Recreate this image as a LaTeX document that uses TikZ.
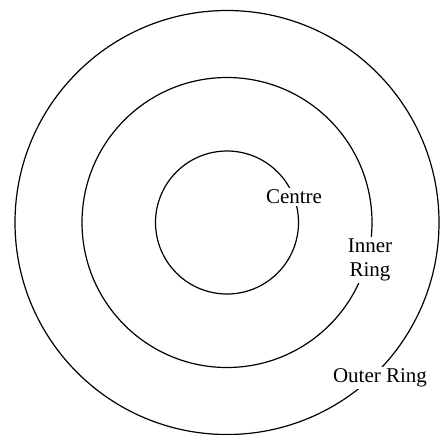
\documentclass[tikz,border=0pt]{standalone}
\usepackage{fontspec}
\setmainfont{Liberation Serif}
\begin{document}
\begin{tikzpicture}[x=1pt,y=-1pt,
  ring/.style={draw=black,line width=1.2pt},
  lbl/.style={fill=white,inner sep=1.5pt,font=\fontsize{21}{24}\selectfont,align=center}]
\useasboundingbox (0,0) rectangle (443,434);
\coordinate (o) at (227,222.5);
\begin{scope}
\clip (0,0) rectangle (443,434);
\draw[ring] (o) circle [radius=212pt];
\draw[ring] (o) circle [radius=145pt];
\draw[ring] (o) circle [radius=71.5pt];
\end{scope}
\node[lbl] (centre) at (294,197) {Centre};
\node[lbl] (inner) at (370,260) {Inner\\Ring};
\node[lbl] (outer) at (380,378) {Outer Ring};
\end{tikzpicture}
\end{document}
